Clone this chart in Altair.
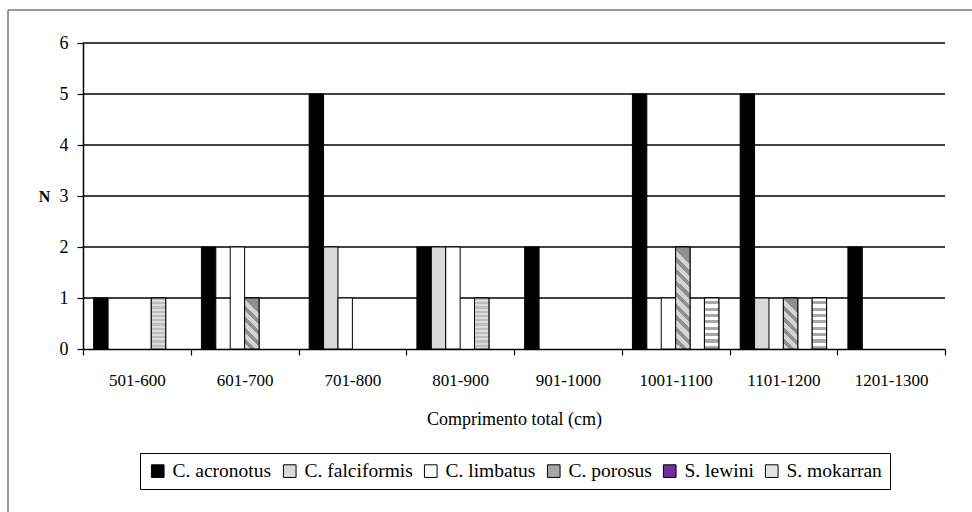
import altair as alt
import pandas as pd

# Length classes (total length) and species
categories = ["501-600", "601-700", "701-800", "801-900",
              "901-1000", "1001-1100", "1101-1200", "1201-1300"]
species = ["C. acronotus", "C. falciformis", "C. limbatus",
           "C. porosus", "S. lewini", "S. mokarran"]

# Number of individuals per length class, one list per species
acronotus = [1, 2, 5, 2, 2, 5, 5, 2]
falciformis = [0, 0, 2, 2, 0, 0, 1, 0]
limbatus = [0, 2, 1, 2, 0, 1, 0, 0]
porosus = [0, 1, 0, 0, 0, 2, 1, 0]
lewini = [1, 0, 0, 1, 0, 0, 0, 0]
mokarran = [0, 0, 0, 0, 0, 1, 1, 0]

y_ticks = [0, 1, 2, 3, 4, 5, 6]
legend_fills = ["#000000", "#d9d9d9", "#ffffff", "#a6a6a6", "#7030a0", "#e4e4e4"]

rows = []
for sp, vals in zip(species, [acronotus, falciformis, limbatus, porosus, lewini, mokarran]):
    for cat, n in zip(categories, vals):
        if n > 0:
            rows.append({"classe": cat, "especie": sp, "n": n})
df = pd.DataFrame(rows)
grid_df = pd.DataFrame({"t": y_ticks[1:]})

W, H = 862, 306
FONT = "Liberation Serif"


def stripes(c1, c2, cycles, x1, y1, x2, y2, share=0.5):
    """Hard-stop linear gradient used as a hatch fill."""
    stops = []
    for i in range(cycles):
        a = i / cycles
        m = (i + share) / cycles
        b = (i + 1) / cycles
        stops += [{"offset": a, "color": c1}, {"offset": m, "color": c1},
                  {"offset": m, "color": c2}, {"offset": b, "color": c2}]
    return {"gradient": "linear", "x1": x1, "y1": y1, "x2": x2, "y2": y2, "stops": stops}


x_scale = alt.Scale(domain=categories, paddingInner=0, paddingOuter=0)
xo_scale = alt.Scale(domain=species, paddingInner=0, paddingOuter=0.74)
y_scale = alt.Scale(domain=[0, 6], nice=False)

x_axis = alt.Axis(labelAngle=0, tickBand="extent", tickSize=6, tickColor="black",
                  tickWidth=1.2, domainColor="black", domainWidth=1.5, grid=False,
                  labelFont=FONT, labelFontSize=17, labelPadding=17, labelColor="black",
                  title="Comprimento total (cm)", titleFont=FONT, titleFontSize=18,
                  titleFontWeight="normal", titleColor="black", titleY=61)
y_axis = alt.Axis(values=y_ticks, tickSize=6, tickColor="black", tickWidth=1.2,
                  domainColor="black", domainWidth=1.5, grid=False,
                  labelFont=FONT, labelFontSize=18, labelPadding=9, labelColor="black",
                  title="N", titleFont=FONT, titleAngle=0, titleFontWeight="bold",
                  titleFontSize=16, titleColor="black", titleX=-39, titleY=153,
                  titleAlign="center", titleBaseline="middle")

x_enc = alt.X("classe:N", sort=categories, scale=x_scale, axis=x_axis)
xo_enc = alt.XOffset("especie:N", scale=xo_scale)
y_enc = alt.Y("n:Q", scale=y_scale, axis=y_axis)

# horizontal grid lines, drawn first so the bars sit on top of them
grid = alt.Chart(grid_df).mark_rule(color="black", strokeWidth=1.5).encode(
    y=alt.Y("t:Q", scale=y_scale, axis=y_axis),
    x=alt.value(0), x2=alt.value(W),
)

base = alt.Chart(df).mark_bar(stroke="black", strokeWidth=1).encode(
    x=x_enc,
    xOffset=xo_enc,
    y=y_enc,
    fill=alt.Fill("especie:N", scale=alt.Scale(domain=species, range=legend_fills),
                  legend=alt.Legend(title=None, orient="none", legendX=57, legendY=410,
                                    direction="horizontal", symbolType="square",
                                    symbolSize=160, symbolStrokeColor="black",
                                    symbolStrokeWidth=1, labelFont=FONT,
                                    labelFontSize=19.5, labelColor="black",
                                    labelOffset=5, columnPadding=8,
                                    strokeColor="black", padding=8)),
)


def overlay(sp, fill, n=None):
    data = df[df["especie"] == sp]
    if n is not None:
        data = data[data["n"] == n]
    return alt.Chart(data).mark_bar(stroke="black", strokeWidth=1, fill=fill).encode(
        x=x_enc, xOffset=xo_enc, y=y_enc,
    )


# diagonal hatch for C. porosus (one gradient per bar height keeps the slant at ~45 deg)
por1 = overlay("C. porosus", stripes("#d4d4d4", "#8f8f8f", 5, 0, 1, 0.28, 0, 0.55), 1)
por2 = overlay("C. porosus", stripes("#d4d4d4", "#8f8f8f", 9, 0, 1, 0.14, 0, 0.55), 2)
# fine dotted texture for S. lewini
lew = overlay("S. lewini", stripes("#bdbdbd", "#dcdcdc", 12, 0, 0, 0, 1))
# horizontal stripes for S. mokarran
mok = overlay("S. mokarran", stripes("#ffffff", "#a8a8a8", 8, 0, 0, 0, 1, 0.5))

frame_src = pd.DataFrame({"k": [0]})
frame_left = alt.Chart(frame_src).mark_rule(color="#333333", strokeWidth=1).encode(
    x=alt.value(-75), y=alt.value(-33), y2=alt.value(480))
frame_top = alt.Chart(frame_src).mark_rule(color="#333333", strokeWidth=1).encode(
    x=alt.value(-75), x2=alt.value(900), y=alt.value(-33))

chart = alt.layer(grid, base, por1, por2, lew, mok, frame_left, frame_top).properties(
    width=W, height=H,
    autosize=alt.AutoSizeParams(type="none"),
    padding={"left": 83, "top": 43, "right": 27, "bottom": 163},
    background="white",
).configure(font=FONT).configure_view(stroke="transparent")

chart.save("out.html", embed_options={"renderer": "svg", "actions": False})
